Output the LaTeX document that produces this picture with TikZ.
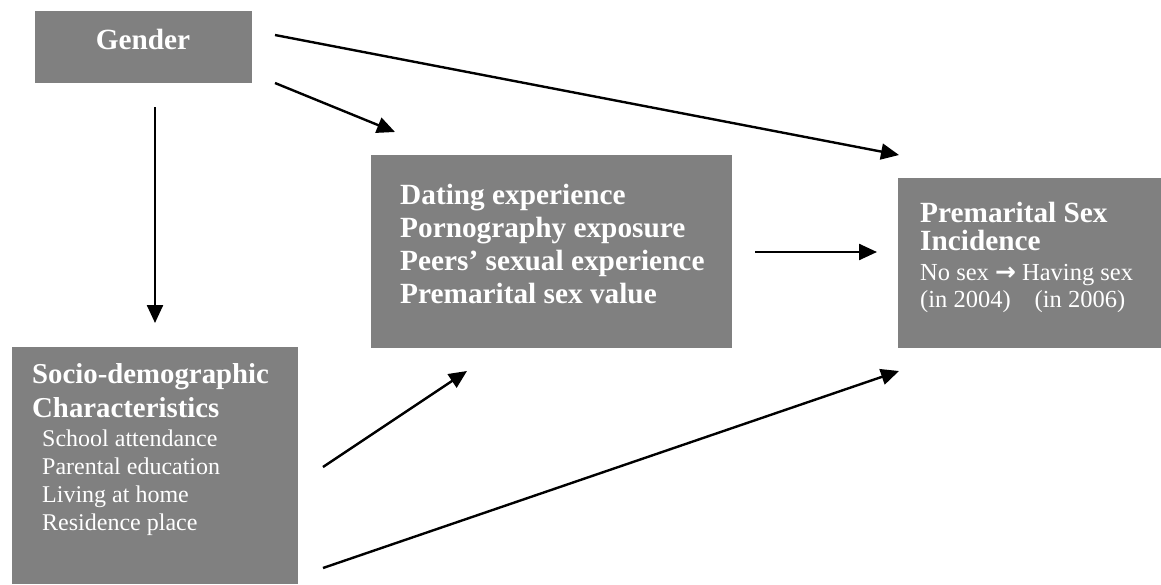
\documentclass[tikz,border=0pt]{standalone}
\usepackage{fontspec}
\setmainfont{Liberation Serif}
\newfontfamily\arrowfont{DejaVu Sans}
\usetikzlibrary{arrows.meta}
\definecolor{boxgray}{HTML}{808080}
\tikzset{
  box/.style={fill=boxgray, draw=none, inner sep=0pt, outer sep=0pt},
  big/.style={font=\fontsize{29.3}{33}\selectfont\bfseries, text=white, inner sep=0pt, anchor=base west, align=left},
  conn/.style={line width=2.4pt, -{Triangle[length=18pt,width=16pt]}},
}
\begin{document}
\begin{tikzpicture}[x=1pt,y=-1pt]
\useasboundingbox (0,0) rectangle (1161,584);
% boxes
\node[box, minimum width=217pt, minimum height=72pt, anchor=north west] (gender) at (35,11) {};
\node[box, minimum width=361pt, minimum height=193pt, anchor=north west] (mid) at (371,155) {};
\node[box, minimum width=263pt, minimum height=170pt, anchor=north west] (res) at (898,178) {};
\node[box, minimum width=286pt, minimum height=237pt, anchor=north west] (socio) at (12,347) {};
% texts (base anchor = baseline of last line)
\node[big, anchor=base] (gendertxt) at (143,49) {Gender};
\node[big] (midtxt) at (400,303) {Dating experience\\Pornography exposure\\Peers’ sexual experience\\Premarital sex value};
\node[big, font=\fontsize{29.3}{28}\selectfont\bfseries] (restxt) at (920,250) {Premarital Sex\\Incidence};
\node[big, font=\fontsize{24.5}{27}\selectfont] (resdet) at (920,307) {No sex {\arrowfont\bfseries\fontsize{25}{27}\selectfont →} Having sex\\(in 2004)\hspace{24pt}(in 2006)};
\node[big, font=\fontsize{28.8}{34}\selectfont\bfseries] (sociotxt) at (32,417) {Socio-demographic\\Characteristics};
\node[big, font=\fontsize{24}{27.7}\selectfont] (sociodet) at (42,530) {School attendance\\Parental education\\Living at home\\Residence place};
% connector ends
\coordinate (g1) at (275,35);
\coordinate (g1e) at (899,155);
\coordinate (g2) at (275,83);
\coordinate (g2e) at (395,132);
\coordinate (g3) at (155,107);
\coordinate (g3e) at (155,323);
\coordinate (m1) at (755,252);
\coordinate (m1e) at (877,252);
\coordinate (s1) at (323,467);
\coordinate (s1e) at (467,371);
\coordinate (s2) at (323,568);
\coordinate (s2e) at (899,371);
\draw[conn] (g1) -- (g1e);
\draw[conn] (g2) -- (g2e);
\draw[conn] (g3) -- (g3e);
\draw[conn] (m1) -- (m1e);
\draw[conn] (s1) -- (s1e);
\draw[conn] (s2) -- (s2e);
\end{tikzpicture}
\end{document}
